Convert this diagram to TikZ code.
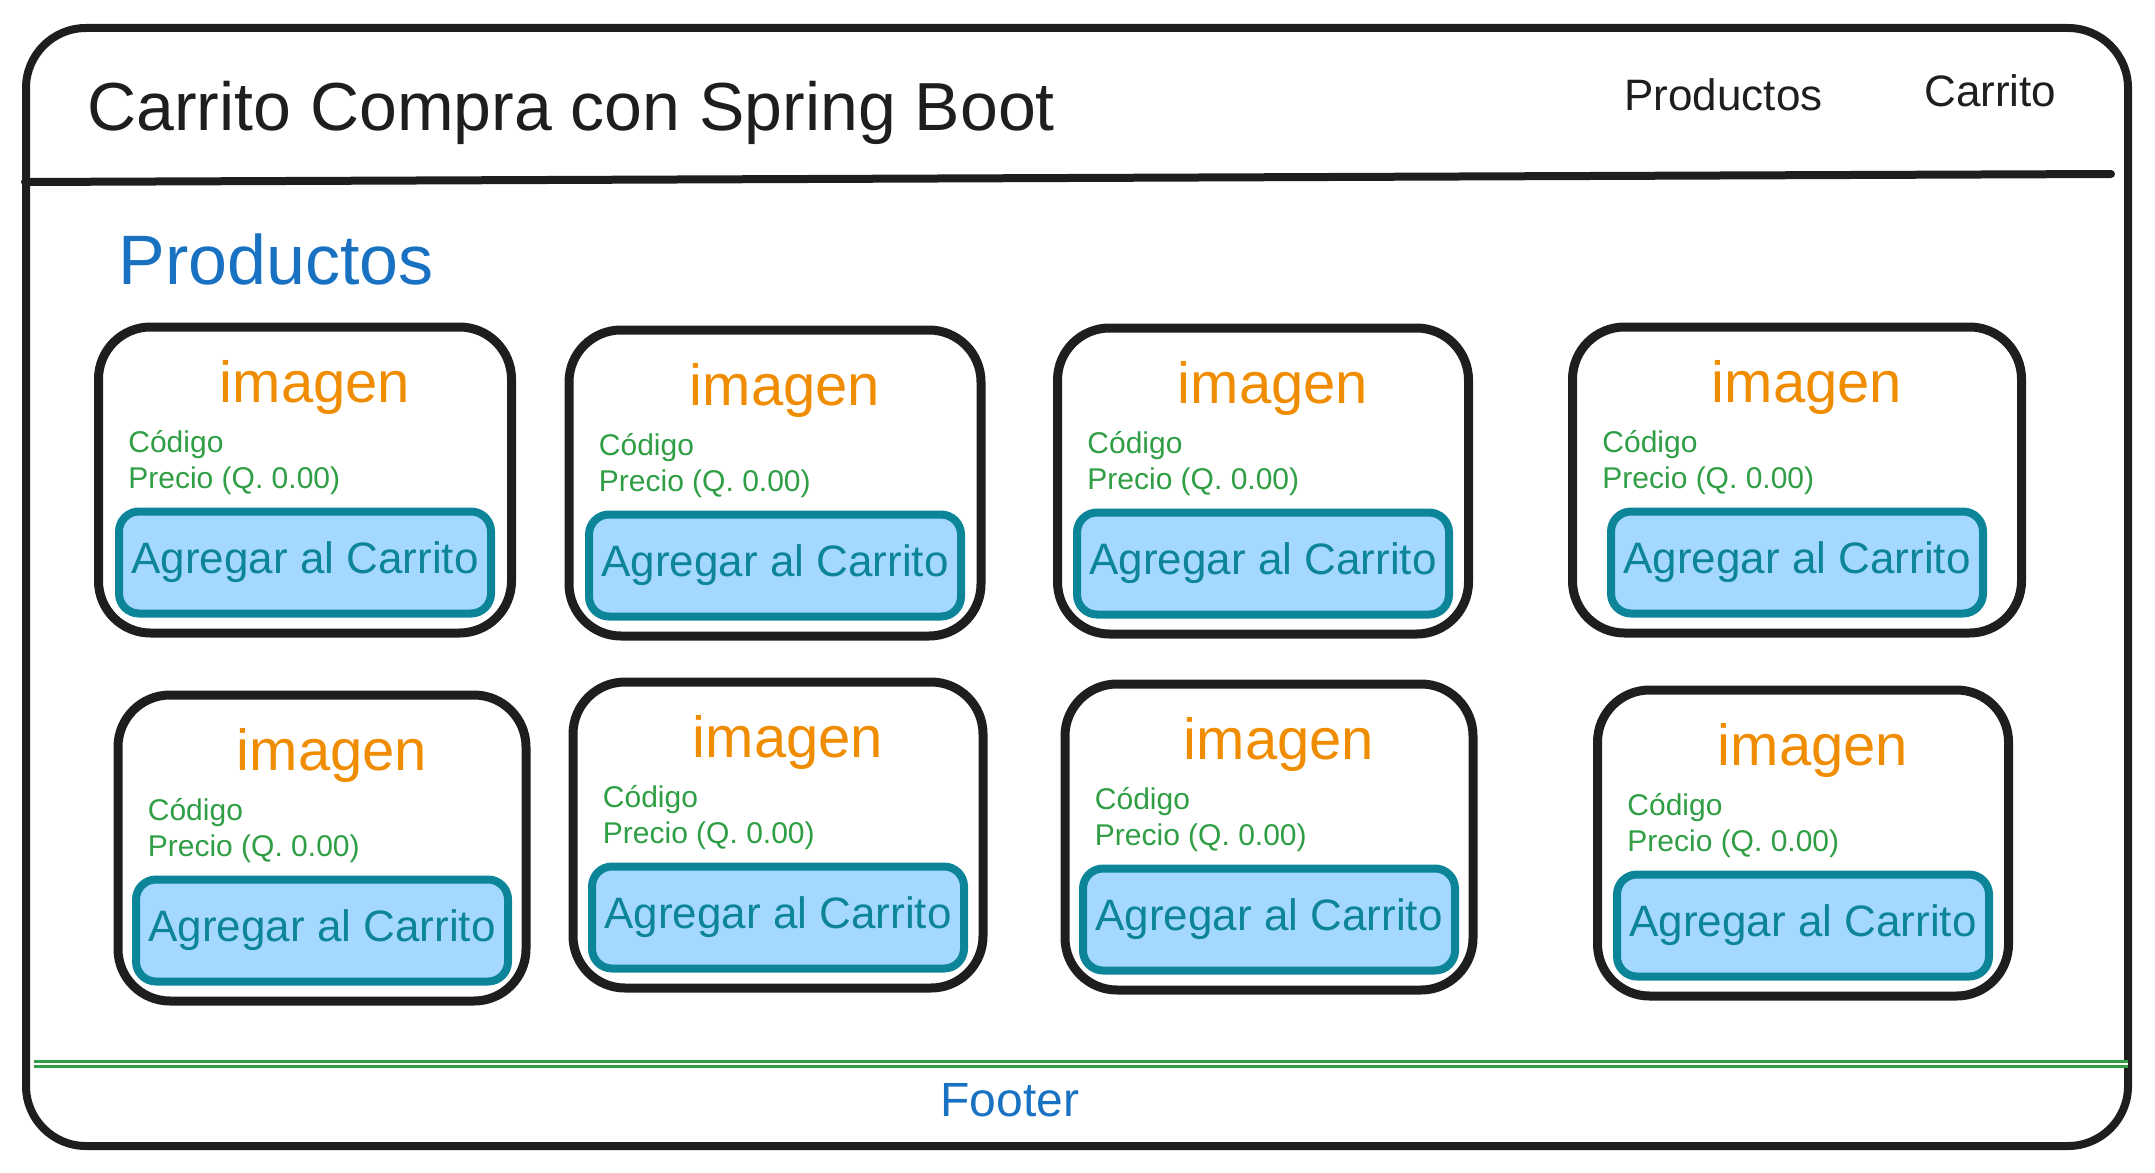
\documentclass[tikz,border=0pt]{standalone}
\usepackage{fontspec}
\setmainfont{Liberation Sans}
\definecolor{inkblack}{HTML}{1E1E1E}
\definecolor{imgorange}{HTML}{F08C00}
\definecolor{infogreen}{HTML}{2F9E44}
\definecolor{headblue}{HTML}{1971C2}
\definecolor{btnfill}{HTML}{A5D8FF}
\definecolor{btnteal}{HTML}{0C8599}
\usetikzlibrary{positioning, calc}

\begin{document}
\begin{tikzpicture}[x=0.5pt, y=-0.5pt,
  card/.style={draw=inkblack, line width=4.5pt, rounded corners=26pt, minimum height=153pt, inner sep=0pt},
  btn/.style={draw=btnteal, fill=btnfill, line width=4pt, rounded corners=10pt, minimum width=186pt, minimum height=51pt, inner sep=0pt, text=btnteal, font=\fontsize{22}{26}\selectfont},
  imgtxt/.style={anchor=base, inner sep=0pt, text=imgorange, font=\fontsize{29}{34}\selectfont},
  infotxt/.style={anchor=base west, inner sep=0pt, text=infogreen, font=\fontsize{15}{18}\selectfont},
  navtxt/.style={anchor=base west, inner sep=0pt, text=inkblack, font=\fontsize{22}{26}\selectfont}]
  \useasboundingbox (0,0) rectangle (2155,1172);

  % Page frame and header bar
  \node[draw=inkblack, line width=4pt, rounded corners=30pt, minimum width=1051pt, minimum height=559pt] (frame) at (1077,587) {};
  \coordinate (hdrL) at (25,182);
  \coordinate (hdrR) at (2111,174);
  \draw[inkblack, line width=4pt, line cap=round] (hdrL) -- (hdrR);
  \node[navtxt, font=\fontsize{34}{40}\selectfont] (title) at (87,131) {Carrito Compra con Spring Boot};
  \node[navtxt] (navprod) at (1624,111) {Productos};
  \node[navtxt] (navcart) at (1924,106) {Carrito};

  % Products heading
  \node[anchor=base west, inner sep=0pt, text=headblue, font=\fontsize{35}{40}\selectfont] (prodhead) at (118,284) {Productos};

  % Product cards
  \foreach \name/\cx/\cy/\w in {c1/305/480/422, c2/775/483/421, c3/1263/481/420, c4/1797/480/458,
                                c5/322/848/417, c6/778/835/419, c7/1269/837/417, c8/1803/843/420} {
    \node[card, minimum width=\w*0.5pt-4.5pt] (\name) at (\cx,\cy) {};
    \node[imgtxt] (\name-img) at ($(\name.north)+(10,80)$) {imagen};
    \node[infotxt] (\name-cod) at ($(\name.north west)+(34,130)$) {Código};
    \node[infotxt] (\name-pre) at ($(\name.north west)+(34,166)$) {Precio (Q. 0.00)};
    \node[btn, anchor=south] (\name-btn) at ($(\name.south)+(0,-20)$) {Agregar al Carrito};
  }

  % Footer
  \coordinate (ftrL) at (34,1064);
  \coordinate (ftrR) at (2128,1064);
  \draw[infogreen, line width=1.3pt, double=white, double distance=1pt] (ftrL) -- (ftrR);
  \node[anchor=base, inner sep=0pt, text=headblue, font=\fontsize{24}{28}\selectfont] (footer) at (1010,1116) {Footer};
\end{tikzpicture}
\end{document}
